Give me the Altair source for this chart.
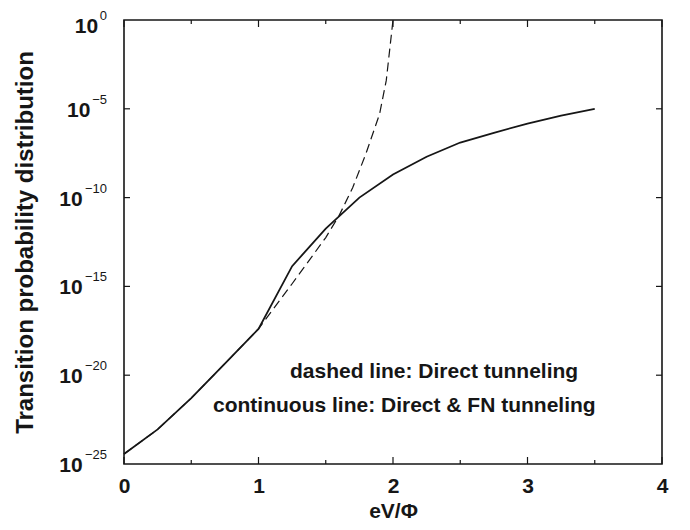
import altair as alt
import pandas as pd

# ---- data (log10 of the transition probability) ----
x_solid = [0.0, 0.25, 0.5, 0.75, 1.0, 1.25, 1.5, 1.75, 2.0, 2.25, 2.5, 2.75, 3.0, 3.25, 3.5]
logp_solid = [-24.44, -23.05, -21.29, -19.35, -17.39, -13.86, -11.75, -10.0, -8.7, -7.7,
              -6.9, -6.35, -5.83, -5.38, -5.0]
x_dashed = [0.0, 0.25, 0.5, 0.75, 1.0, 1.25, 1.5, 1.6, 1.7, 1.8, 1.9, 1.95, 2.0]
logp_dashed = [-24.44, -23.05, -21.29, -19.35, -17.39, -14.85, -12.25, -11.0, -9.45, -7.5,
               -5.3, -3.4, 0.0]

x_major = [0, 1, 2, 3, 4]
x_minor = [0.5, 1.5, 2.5, 3.5]
y_tick_exp = [0, -5, -10, -15, -20, -25]
y_tick_base = ["10", "10", "10", "10", "10", "10"]
y_tick_sup = ["0", "\u22125", "\u221210", "\u221215", "\u221220", "\u221225"]
annotation_lines = ["dashed line: Direct tunneling",
                    "continuous line: Direct & FN tunneling"]
x_title = "eV/\u03a6"
y_title = "Transition probability distribution"

W, H = 538, 444
INK = "#161616"
FONT = "Liberation Sans"

solid_df = pd.DataFrame({"x": x_solid, "p": [10.0 ** v for v in logp_solid]})
dashed_df = pd.DataFrame({"x": x_dashed, "p": [10.0 ** v for v in logp_dashed]})
xmaj_df = pd.DataFrame({"x": x_major})
xmin_df = pd.DataFrame({"x": x_minor})
ytick_df = pd.DataFrame({"p": [10.0 ** e for e in y_tick_exp[1:-1]]})
ylab_df = pd.DataFrame({"p": [10.0 ** e for e in y_tick_exp],
                        "base": y_tick_base, "exp": y_tick_sup})

xscale = alt.Scale(domain=[0, 4], nice=False, zero=False)
yscale = alt.Scale(type="log", domain=[1e-25, 1], nice=False)

xaxis = alt.Axis(values=x_major, title=x_title, format="d", ticks=False, tickSize=0,
                 domain=False, grid=False, labelPadding=11, labelFontSize=21,
                 labelFlush=False, labelFontWeight="bold", labelColor=INK,
                 titleFontSize=21, titleFontWeight="bold", titleColor=INK, titlePadding=4)
yaxis = alt.Axis(labels=False, ticks=False, tickSize=0, domain=False, grid=False,
                 title=y_title, titleFontSize=24, titleFontWeight="bold",
                 titleColor=INK, titlePadding=87)

X = alt.X("x:Q", scale=xscale, axis=xaxis)
Y = alt.Y("p:Q", scale=yscale, axis=yaxis)

dashed = alt.Chart(dashed_df).mark_line(color=INK, strokeWidth=1.2, strokeDash=[9, 5]).encode(
    x=X, y=Y)

solid = alt.Chart(solid_df).mark_line(color=INK, strokeWidth=1.8).encode(x=X, y=Y)


def xticks(df, y0, y1):
    return alt.Chart(df).mark_rule(color=INK, strokeWidth=1.2).encode(
        x=X, y=alt.value(y0), y2=alt.value(y1))


def yticks(x0, x1):
    return alt.Chart(ytick_df).mark_rule(color=INK, strokeWidth=1.2).encode(
        y=Y, x=alt.value(x0), x2=alt.value(x1))


ticks = [
    xticks(xmaj_df, H, H - 7), xticks(xmin_df, H, H - 4),
    xticks(xmaj_df, 0, 7), xticks(xmin_df, 0, 4),
    yticks(0, 6), yticks(W, W - 6),
]


def tick_labels(filt, shift):
    base = alt.Chart(ylab_df).transform_filter(filt).transform_calculate(
        off="-7.8*length(datum.exp)")
    big = base.mark_text(align="right", baseline="alphabetic", dy=8 + shift, fontSize=21,
                         fontWeight="bold", color=INK).encode(
        x=alt.value(-18),
        xOffset=alt.XOffset("off:Q", scale=None),
        y=Y,
        text="base:N",
    )
    sup = base.mark_text(align="right", baseline="alphabetic", dy=-5 + shift,
                         fontSize=13, color=INK).encode(
        x=alt.value(-17),
        y=Y,
        text="exp:N",
    )
    return [big, sup]


labels = tick_labels("datum.p < 1", 0) + tick_labels("datum.p >= 1", 5)

ann1 = alt.Chart(pd.DataFrame({"t": [annotation_lines[0]]})).mark_text(
    align="left", baseline="alphabetic", fontSize=21, fontWeight="bold", color=INK
).encode(x=alt.value(166), y=alt.value(358), text="t:N")

ann2 = alt.Chart(pd.DataFrame({"t": [annotation_lines[1]]})).mark_text(
    align="left", baseline="alphabetic", fontSize=21, fontWeight="bold", color=INK
).encode(x=alt.value(89), y=alt.value(392), text="t:N")

chart = alt.layer(dashed, solid, *ticks, *labels, ann1, ann2).properties(
    width=W, height=H,
    padding={"left": 116, "top": 12, "right": 20, "bottom": 57},
    autosize="none",
).configure(font=FONT).configure_view(stroke=INK, strokeWidth=1.6)

chart.save("out.html", embed_options={"renderer": "svg", "actions": False})
